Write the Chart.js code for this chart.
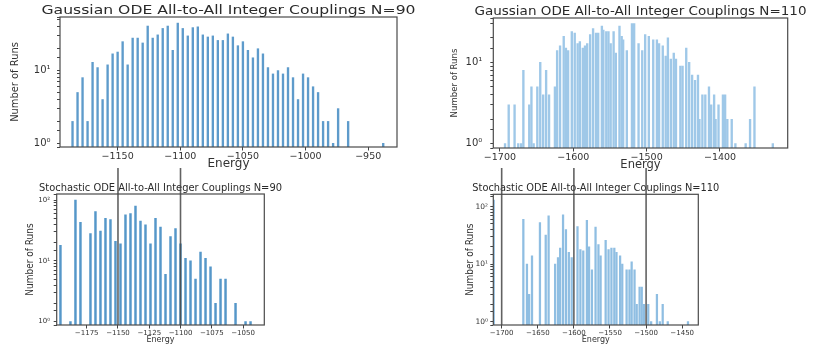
<!DOCTYPE html>
<html>
<head>
<meta charset="utf-8">
<script src="https://cdn.jsdelivr.net/npm/chart.js@4.4.1/dist/chart.umd.min.js"></script>
<style>
  body { margin: 0; background: #fff; }
  .wrap { position: relative; width: 813px; height: 347px; overflow: hidden; }
  canvas { position: absolute; }
</style>
</head>
<body>
<div class="wrap">
  <canvas id="gauss90" width="430" height="175" style="left:0;top:0"></canvas>
  <canvas id="gauss110" width="393" height="175" style="left:420px;top:0"></canvas>
  <canvas id="stoch90" width="420" height="187" style="left:0;top:160px"></canvas>
  <canvas id="stoch110" width="393" height="187" style="left:420px;top:160px"></canvas>
</div>
<script>
// histogram bins (energy) and counts
const gauss90Energy = [-1186, -1182, -1178, -1174, -1170, -1166, -1162, -1158, -1154, -1150,
  -1146, -1142, -1138, -1134, -1130, -1126, -1122, -1118, -1114, -1110,
  -1106, -1102, -1098, -1094, -1090, -1086, -1082, -1078, -1074, -1070,
  -1066, -1062, -1058, -1054, -1050, -1046, -1042, -1038, -1034, -1030,
  -1026, -1022, -1018, -1014, -1010, -1006, -1002, -998, -994, -990,
  -986, -982, -978, -974, -966, -938];
const gauss90Runs = [2, 5, 8, 2, 13, 11, 4, 12, 17, 18,
  25, 12, 28, 28, 24, 41, 28, 31, 38, 41,
  19, 45, 38, 30, 39, 40, 31, 29, 30, 26,
  26, 32, 29, 22, 25, 19, 15, 20, 17, 11,
  9, 10, 9, 11, 8, 4, 9, 8, 6, 5,
  2, 2, 1, 3, 2, 1];

const gauss110Energy = [-1693, -1688, -1680, -1675, -1671, -1668, -1660, -1657, -1654, -1649,
  -1645, -1641, -1637, -1633, -1625, -1622, -1618, -1613, -1610, -1607,
  -1602, -1598, -1594, -1591, -1587, -1584, -1581, -1577, -1573, -1569,
  -1566, -1561, -1559, -1555, -1552, -1549, -1545, -1542, -1537, -1534,
  -1532, -1527, -1520, -1517, -1511, -1506, -1502, -1497, -1491, -1486,
  -1483, -1478, -1474, -1471, -1467, -1463, -1460, -1454, -1451, -1446,
  -1442, -1438, -1434, -1430, -1428, -1424, -1420, -1415, -1412, -1408,
  -1406, -1402, -1396, -1393, -1390, -1384, -1379, -1365, -1359, -1353,
  -1328];
const gauss110Runs = [1, 3, 3, 1, 1, 8, 3, 5, 1, 5,
  10, 4, 8, 4, 5, 14, 16, 21, 15, 14,
  24, 23, 17, 18, 15, 16, 17, 22, 26, 23,
  23, 28, 25, 24, 24, 17, 24, 13, 28, 21,
  19, 14, 30, 30, 17, 14, 22, 21, 19, 19,
  17, 16, 12, 20, 11, 13, 11, 9, 9, 15,
  10, 7, 6, 7, 2, 4, 4, 5, 3, 4,
  2, 3, 4, 4, 2, 2, 1, 1, 2, 5,
  1];

const stoch90Energy = [-1196, -1188, -1184, -1180, -1172, -1168, -1164, -1160, -1156, -1152,
  -1148, -1144, -1140, -1136, -1132, -1128, -1124, -1120, -1116, -1112,
  -1108, -1104, -1100, -1096, -1092, -1088, -1084, -1080, -1076, -1072,
  -1068, -1064, -1056, -1048, -1044];
const stoch90Runs = [18, 1, 100, 43, 28, 65, 31, 50, 48, 21,
  19, 57, 60, 80, 45, 39, 19, 50, 36, 6,
  25, 34, 19, 11, 10, 5, 14, 11, 8, 2,
  5, 5, 2, 1, 1];

const stoch110Energy = [-1711, -1670, -1665, -1662, -1658, -1647, -1639, -1635, -1626, -1622,
  -1619, -1615, -1611, -1607, -1603, -1595, -1591, -1587, -1582, -1579,
  -1575, -1570, -1566, -1563, -1556, -1552, -1548, -1544, -1541, -1536,
  -1533, -1527, -1523, -1520, -1516, -1513, -1509, -1506, -1503, -1497,
  -1493, -1485, -1481, -1477, -1470, -1442];
const stoch110Runs = [130, 60, 10, 3, 14, 53, 32, 69, 10, 13,
  19, 72, 40, 16, 13, 45, 18, 17, 58, 20,
  8, 44, 22, 14, 26, 18, 19, 19, 16, 14,
  10, 8, 8, 11, 8, 2, 4, 4, 2, 2,
  1, 3, 1, 2, 1, 1];

// x tick positions of each panel
const gauss90Ticks = [-1150, -1100, -1050, -1000, -950];
const gauss110Ticks = [-1700, -1600, -1500, -1400];
const stoch90Ticks = [-1175, -1150, -1125, -1100, -1075, -1050];
const stoch110Ticks = [-1700, -1650, -1600, -1550, -1500, -1450];

// energies marked by the grey guide lines
const markers90 = [-1150, -1100];
const markers110 = [-1700, -1600, -1500];

const SUP = { "0": "\u2070", "1": "\u00b9", "2": "\u00b2" };
const SANS = "'DejaVu Sans', sans-serif";
const NARROW = "'Liberation Sans Narrow', 'DejaVu Sans Condensed', sans-serif";

function logLabel(v) {
  const p = Math.log10(v);
  if (Math.abs(p - Math.round(p)) > 1e-6) return "";
  return "10" + SUP[String(Math.round(p))];
}

function energyLabel(v) {
  return String(Math.round(v)).replace("-", "\u2212");
}

// matplotlib-like box round the axes
const frame = {
  id: "frame",
  afterDraw(chart) {
    const { ctx, chartArea: a } = chart;
    ctx.save();
    ctx.strokeStyle = "#4a4a4a";
    ctx.lineWidth = 1.2;
    ctx.strokeRect(a.left, a.top, a.right - a.left, a.bottom - a.top);
    ctx.restore();
  }
};

// title centred on the axes, stretched to the width seen in the picture
const panelTitle = {
  id: "panelTitle",
  afterDraw(chart, args, o) {
    const { ctx, chartArea: a } = chart;
    ctx.save();
    ctx.font = o.font;
    ctx.fillStyle = "#2a2a2a";
    ctx.textAlign = "center";
    ctx.textBaseline = "middle";
    const w = ctx.measureText(o.text).width;
    ctx.translate((a.left + a.right) / 2, o.y);
    ctx.scale(o.width / w, 1);
    ctx.fillText(o.text, 0, 0);
    ctx.restore();
  }
};

// vertical guide lines running up from the lower panels
const markers = {
  id: "markers",
  afterDraw(chart, args, o) {
    if (!o.values) return;
    const { ctx, chartArea: a, scales: { x } } = chart;
    ctx.save();
    ctx.strokeStyle = "rgba(70,70,70,0.85)";
    ctx.lineWidth = 1.6;
    o.values.forEach(v => {
      const px = x.getPixelForValue(v);
      ctx.beginPath();
      ctx.moveTo(px, o.top);
      ctx.lineTo(px, a.bottom);
      ctx.stroke();
    });
    ctx.restore();
  }
};

function histogram(id, p) {
  return new Chart(document.getElementById(id), {
    type: "bar",
    data: {
      datasets: [{
        data: p.energy.map((e, i) => ({ x: e, y: p.runs[i] })),
        backgroundColor: p.color,
        barThickness: p.bar,
        grouped: false
      }]
    },
    plugins: [frame, panelTitle, markers],
    options: {
      responsive: false,
      animation: false,
      events: [],
      layout: { padding: p.pad },
      plugins: {
        legend: { display: false },
        tooltip: { enabled: false },
        panelTitle: p.title,
        markers: p.markers || {}
      },
      scales: {
        x: {
          type: "linear",
          min: p.xmin,
          max: p.xmax,
          offset: false,
          afterFit: s => { s.height = p.xh; },
          afterBuildTicks: s => { s.ticks = p.ticks.map(v => ({ value: v })); },
          grid: { drawOnChartArea: false, offset: false, tickLength: 3.5, color: "#444" },
          border: { display: false },
          ticks: {
            autoSkip: false, maxRotation: 0,
            padding: 0, color: "#333", font: { family: SANS, size: p.tick },
            callback: energyLabel
          },
          title: {
            display: true, text: "Energy", color: "#333",
            font: { family: SANS, size: p.label }, padding: { top: 0, bottom: p.xtPad }
          }
        },
        y: {
          type: "logarithmic",
          min: p.ymin,
          max: p.ymax,
          afterFit: s => { s.width = p.yw; },
          grid: { drawOnChartArea: false, tickLength: 3, color: "#444" },
          border: { display: false },
          ticks: {
            autoSkip: false, padding: p.ytickPad, color: "#333",
            font: { family: SANS, size: p.ytick }, callback: logLabel
          },
          title: {
            display: true, text: "Number of Runs", color: "#333",
            font: { family: NARROW, size: p.ylabel }, padding: { top: p.ytPad, bottom: 0 }
          }
        }
      }
    }
  });
}

histogram("gauss90", {
  energy: gauss90Energy, runs: gauss90Runs, ticks: gauss90Ticks, color: "#5e9bcb", bar: 1.7,
  pad: { left: 0, right: 33, top: 17, bottom: 0 }, xh: 28, yw: 60,
  xmin: -1196, xmax: -927, ymin: 0.89, ymax: 54.6,
  tick: 9.5, label: 12, xtPad: 4, ytick: 10, ytickPad: 6.5, ylabel: 11, ytPad: 8.4,
  title: { text: "Gaussian ODE All-to-All Integer Couplings N=90", font: "12.5px " + SANS, width: 374, y: 11 }
});

histogram("gauss110", {
  energy: gauss110Energy, runs: gauss110Runs, ticks: gauss110Ticks, color: "#9fc8e8", bar: 1.7,
  pad: { left: 0, right: 25.3, top: 18, bottom: 0 }, xh: 27, yw: 73.3,
  xmin: -1709, xmax: -1307.7, ymin: 0.885, ymax: 35.2,
  tick: 9.5, label: 11.5, xtPad: 3, ytick: 10, ytickPad: 8, ylabel: 9.5, ytPad: 29.3,
  title: { text: "Gaussian ODE All-to-All Integer Couplings N=110", font: "11.5px " + SANS, width: 332, y: 11.7 }
});

histogram("stoch90", {
  energy: stoch90Energy, runs: stoch90Runs, ticks: stoch90Ticks, color: "#5597c9", bar: 1.8,
  pad: { left: 0, right: 155.7, top: 34, bottom: 0 }, xh: 22, yw: 56.7,
  xmin: -1199, xmax: -1033, ymin: 0.88, ymax: 126,
  tick: 7, label: 8, xtPad: 2.2, ytick: 7, ytickPad: 3.7, ylabel: 10, ytPad: 24,
  title: { text: "Stochastic ODE All-to-All Integer Couplings N=90", font: "10.5px " + SANS, width: 243, y: 28 },
  markers: { values: markers90, top: 8 }
});

histogram("stoch110", {
  energy: stoch110Energy, runs: stoch110Runs, ticks: stoch110Ticks, color: "#8fbee2", bar: 1.6,
  pad: { left: 0, right: 114.7, top: 34.3, bottom: 0 }, xh: 22, yw: 73.3,
  xmin: -1711.6, xmax: -1427.7, ymin: 0.876, ymax: 164,
  tick: 7, label: 8, xtPad: 2.2, ytick: 7.5, ytickPad: 2.3, ylabel: 10, ytPad: 44,
  title: { text: "Stochastic ODE All-to-All Integer Couplings N=110", font: "10.5px " + SANS, width: 247, y: 28 },
  markers: { values: markers110, top: 8 }
});
</script>
</body>
</html>
